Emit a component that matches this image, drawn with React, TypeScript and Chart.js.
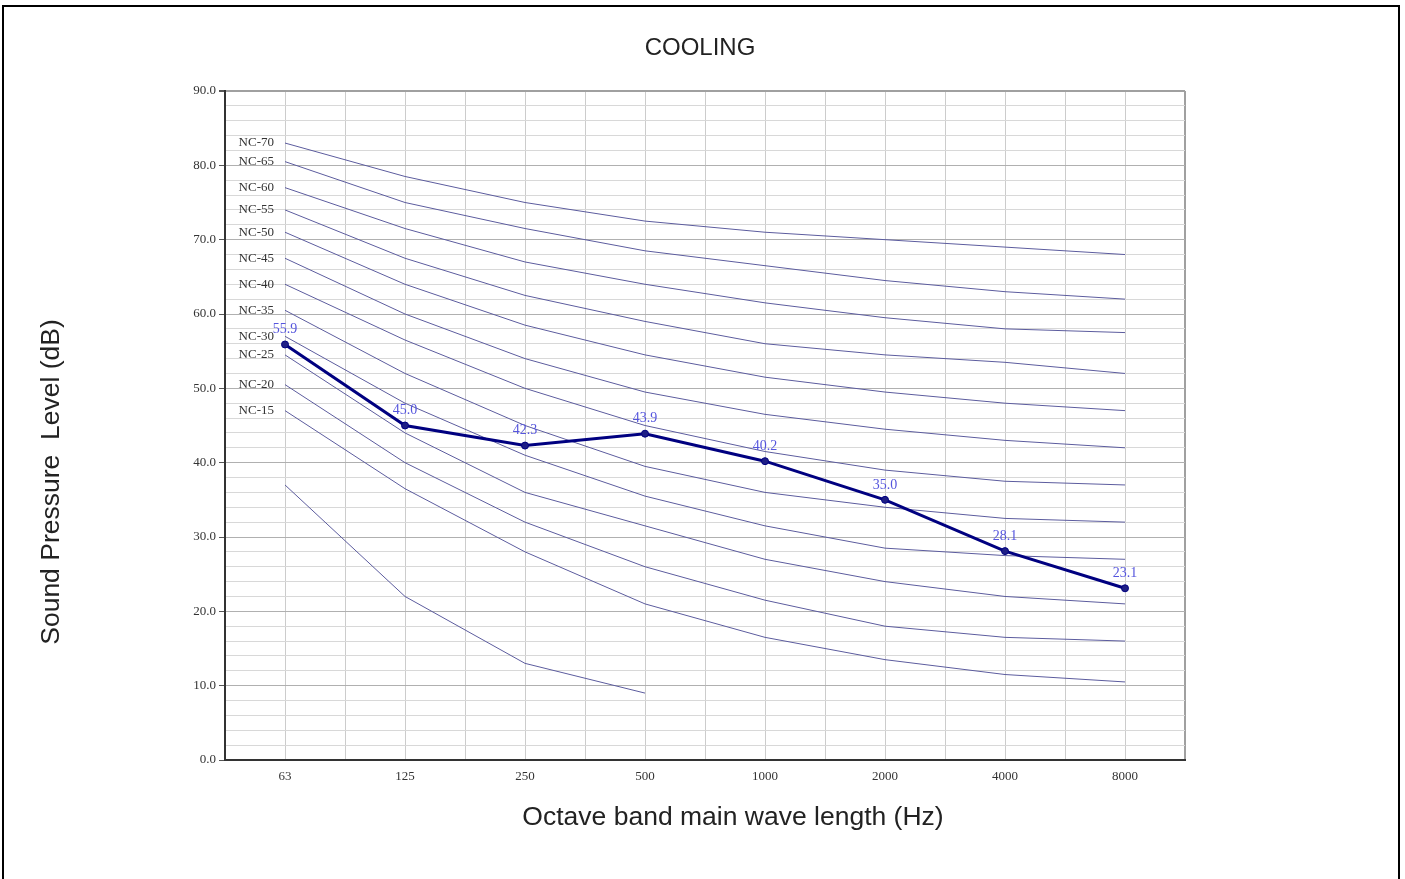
import React, { useEffect, useRef } from "react";
import { Chart, registerables } from "chart.js";

Chart.register(...registerables);

const freqs = ["63", "125", "250", "500", "1000", "2000", "4000", "8000"];
const measured = [55.9, 45.0, 42.3, 43.9, 40.2, 35.0, 28.1, 23.1];

const ncNames = ["NC-70", "NC-65", "NC-60", "NC-55", "NC-50", "NC-45", "NC-40", "NC-35", "NC-30", "NC-25", "NC-20", "NC-15"];
const nc70 = [83, 78.5, 75, 72.5, 71, 70, 69, 68];
const nc65 = [80.5, 75, 71.5, 68.5, 66.5, 64.5, 63, 62];
const nc60 = [77, 71.5, 67, 64, 61.5, 59.5, 58, 57.5];
const nc55 = [74, 67.5, 62.5, 59, 56, 54.5, 53.5, 52];
const nc50 = [71, 64, 58.5, 54.5, 51.5, 49.5, 48, 47];
const nc45 = [67.5, 60, 54, 49.5, 46.5, 44.5, 43, 42];
const nc40 = [64, 56.5, 50, 45, 41.5, 39, 37.5, 37];
const nc35 = [60.5, 52, 45, 39.5, 36, 34, 32.5, 32];
const nc30 = [57, 48, 41, 35.5, 31.5, 28.5, 27.5, 27];
const nc25 = [54.5, 44, 36, 31.5, 27, 24, 22, 21];
const nc20 = [50.5, 40, 32, 26, 21.5, 18, 16.5, 16];
const nc15 = [47, 36.5, 28, 21, 16.5, 13.5, 11.5, 10.5];
const ncExtra = [37, 22, 13, 9, null, null, null, null];

const ncSeries = [nc70, nc65, nc60, nc55, nc50, nc45, nc40, nc35, nc30, nc25, nc20, nc15];

const yTickValues = [0, 10, 20, 30, 40, 50, 60, 70, 80, 90];

const chartTitle = "COOLING";
const yTitle = "Sound Pressure  Level (dB)";
const xTitle = "Octave band main wave length (Hz)";

const SERIF = "'Liberation Serif', 'DejaVu Serif', serif";
const SANS = "'Liberation Sans', Arial, sans-serif";

const toPts = (arr: (number | null)[]) => arr.map((v, i) => ({ x: i, y: v }));

export default function App() {
  const ref = useRef<HTMLCanvasElement | null>(null);

  useEffect(() => {
    if (!ref.current) return;

    const labelsPlugin = {
      id: "customLabels",
      afterDatasetsDraw(chart: any) {
        const ctx = chart.ctx;
        const xs = chart.scales.x;
        const ys = chart.scales.y;
        ctx.save();
        // NC labels
        ctx.font = `13px ${SERIF}`;
        ctx.fillStyle = "#333333";
        ctx.textAlign = "right";
        ctx.textBaseline = "middle";
        ncSeries.forEach((s, i) => {
          ctx.fillText(ncNames[i], xs.getPixelForValue(0) - 11, ys.getPixelForValue(s[0]));
        });
        // data labels
        const meta = chart.getDatasetMeta(0);
        ctx.fillStyle = "#5555dd";
        ctx.font = `14px ${SERIF}`;
        ctx.textAlign = "center";
        meta.data.forEach((pt: any, i: number) => {
          ctx.fillText(measured[i].toFixed(1), pt.x, pt.y - 15);
        });
        // chart title
        ctx.fillStyle = "#222222";
        ctx.font = `24px ${SANS}`;
        ctx.fillText(chartTitle, 700, 48);
        // axis titles
        ctx.font = `26.5px ${SANS}`;
        ctx.fillText(xTitle, 733, 818);
        ctx.translate(52, 482);
        ctx.rotate(-Math.PI / 2);
        ctx.fillText(yTitle, 0, 0);
        ctx.restore();
      },
    };

    const datasets: any[] = [
      {
        label: "Measured",
        data: toPts(measured),
        borderColor: "#000080",
        backgroundColor: "#1a1a80",
        borderWidth: 3,
        pointRadius: 3.5,
        pointBackgroundColor: "#1f1f85",
        pointBorderColor: "#000080",
        pointBorderWidth: 1,
      },
      ...ncSeries.map((s, i) => ({
        label: ncNames[i],
        data: toPts(s),
        borderColor: "#5c5c9e",
        borderWidth: 1,
        pointRadius: 0,
      })),
      {
        label: "",
        data: toPts(ncExtra),
        borderColor: "#5c5c9e",
        borderWidth: 1,
        pointRadius: 0,
        spanGaps: false,
      },
    ];

    const chart = new Chart(ref.current, {
      type: "line",
      data: { datasets },
      plugins: [labelsPlugin],
      options: {
        animation: false,
        responsive: false,
        layout: { padding: { left: 0, right: 220, top: 91, bottom: 0 } },
        plugins: {
          legend: { display: false },
          tooltip: { enabled: false },
          title: { display: false },
        },
        scales: {
          x: {
            type: "linear",
            min: -0.5,
            max: 7.5,
            afterFit: (s: any) => {
              s.height = 119;
            },
            afterBuildTicks: (s: any) => {
              const t = [];
              for (let v = -0.5; v <= 7.5001; v += 0.5) t.push({ value: v });
              s.ticks = t;
            },
            ticks: {
              autoSkip: false,
              maxRotation: 0,
              padding: 9,
              color: "#333333",
              font: { family: SERIF, size: 13 },
              callback: (v: any) => {
                const n = Number(v);
                return Number.isInteger(n) && n >= 0 && n < freqs.length ? freqs[n] : "";
              },
            },
            grid: {
              drawTicks: false,
              color: (c: any) => (c.tick && c.tick.value === 7.5 ? "#a0a0a0" : "#cccccc"),
              lineWidth: (c: any) => (c.tick && c.tick.value === 7.5 ? 2 : 1),
            },
            border: { color: "#333333", width: 2 },
          },
          y: {
            type: "linear",
            min: 0,
            max: 90,
            afterFit: (s: any) => {
              s.width = 225;
            },
            afterBuildTicks: (s: any) => {
              const t = [];
              for (let v = 0; v <= 90; v += 2) t.push({ value: v });
              s.ticks = t;
            },
            ticks: {
              autoSkip: false,
              padding: 3,
              color: "#333333",
              font: { family: SERIF, size: 13 },
              callback: (v: any) => {
                const n = Number(v);
                return yTickValues.includes(n) ? n.toFixed(1) : "";
              },
            },
            grid: {
              drawTicks: true,
              tickLength: 6,
              tickColor: (c: any) => (c.tick && c.tick.value % 10 === 0 ? "#555555" : "rgba(0,0,0,0)"),
              color: (c: any) => {
                const v = c.tick ? c.tick.value : 0;
                if (v === 90) return "#a0a0a0";
                return v % 10 === 0 ? "#b0b0b0" : "#d8d8d8";
              },
              lineWidth: (c: any) => (c.tick && c.tick.value === 90 ? 2 : 1),
            },
            border: { color: "#333333", width: 2 },
          },
        },
      } as any,
    });

    return () => chart.destroy();
  }, []);

  return (
    <>
      <div
        style={{
          position: "fixed",
          left: 2,
          top: 5,
          width: 1398,
          height: 900,
          border: "2px solid #000",
          boxSizing: "border-box",
          background: "#fff",
        }}
      />
      <canvas
        ref={ref}
        width={1405}
        height={879}
        style={{ position: "fixed", left: 0, top: 0, width: 1405, height: 879 }}
      />
    </>
  );
}
